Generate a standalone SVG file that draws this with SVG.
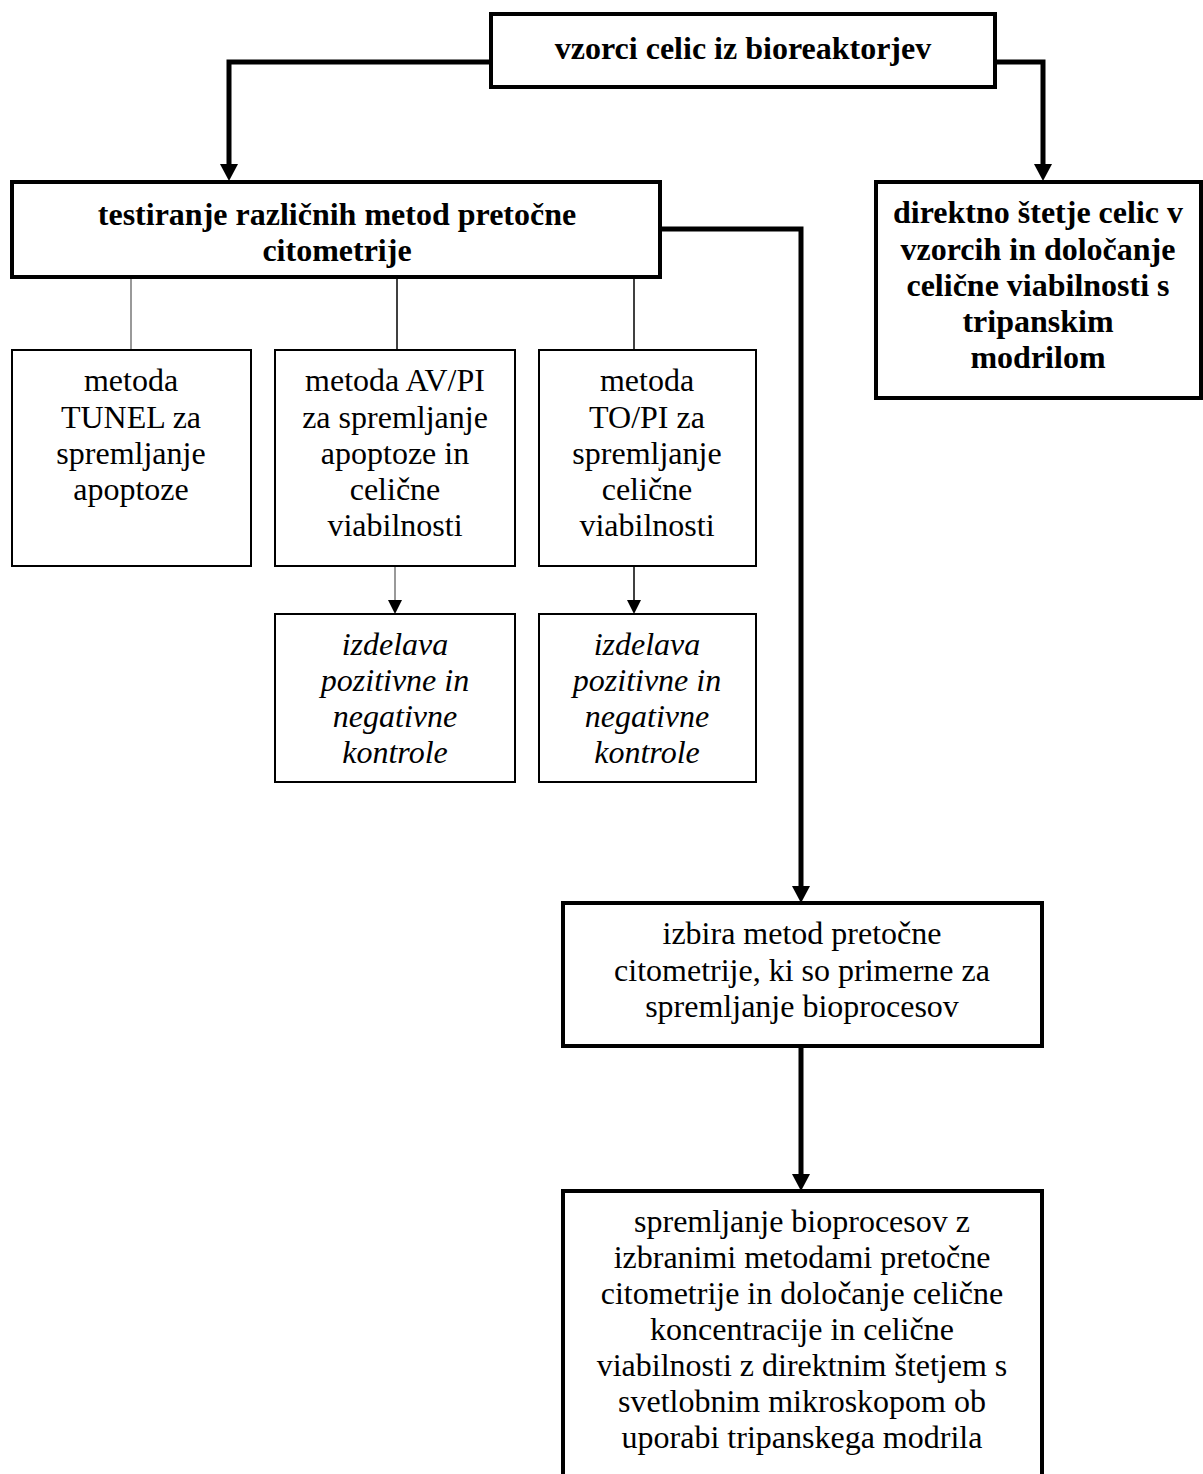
<svg xmlns="http://www.w3.org/2000/svg" width="1203" height="1474" viewBox="0 0 1203 1474">
<style>
text{font-family:"Liberation Serif","Times New Roman",serif;font-size:32px;fill:#000;text-anchor:middle}
.b{font-weight:bold}
.i{font-style:italic}
.thick{fill:#fff;stroke:#000;stroke-width:4}
.thin{fill:#fff;stroke:#000;stroke-width:2}
.tc{fill:none;stroke:#000;stroke-width:5}
.ln{fill:none;stroke:#000;stroke-width:1.5}
.lg{fill:none;stroke:#777;stroke-width:1.5}
</style>
<defs>
<marker id="ab" markerUnits="userSpaceOnUse" markerWidth="20" markerHeight="18" refX="9" refY="16" orient="auto" viewBox="0 0 18 18">
<path d="M0,0 L18,0 L9,16 Z" fill="#000" transform="rotate(0)"/>
</marker>
</defs>
<rect width="1203" height="1474" fill="#fff"/>
<g id="connectors">
<polyline class="tc" points="491,62 229,62 229,166"/>
<path d="M220,164 L238,164 L229,181 Z" fill="#000"/>
<polyline class="tc" points="995,62 1043,62 1043,166"/>
<path d="M1034,164 L1052,164 L1043,181 Z" fill="#000"/>
<polyline class="tc" points="660,229 801,229 801,888"/>
<path d="M792,886 L810,886 L801,903 Z" fill="#000"/>
<line class="tc" x1="801" y1="1046" x2="801" y2="1176"/>
<path d="M792,1174 L810,1174 L801,1191 Z" fill="#000"/>
<line class="lg" x1="131" y1="277" x2="131" y2="350"/>
<line class="ln" x1="397" y1="277" x2="397" y2="350"/>
<line class="ln" x1="634" y1="277" x2="634" y2="350"/>
<line class="lg" x1="395" y1="566" x2="395" y2="602"/>
<path d="M388,600 L402,600 L395,614 Z" fill="#000"/>
<line class="ln" x1="634" y1="566" x2="634" y2="602"/>
<path d="M627,600 L641,600 L634,614 Z" fill="#000"/>
</g>
<g id="n-vzorci">
<rect class="thick" x="491" y="14" width="504" height="73"/>
<text class="b" x="743" y="59">vzorci celic iz bioreaktorjev</text>
</g>
<g id="n-testiranje">
<rect class="thick" x="12" y="182" width="648" height="95"/>
<text class="b" x="337" y="225">testiranje različnih metod pretočne</text>
<text class="b" x="337" y="261">citometrije</text>
</g>
<g id="n-direktno">
<rect class="thick" x="876" y="182" width="325" height="216"/>
<text class="b" x="1038" y="223">direktno štetje celic v</text>
<text class="b" x="1038" y="260">vzorcih in določanje</text>
<text class="b" x="1038" y="296">celične viabilnosti s</text>
<text class="b" x="1038" y="332">tripanskim</text>
<text class="b" x="1038" y="368">modrilom</text>
</g>
<g id="n-tunel">
<rect class="thin" x="12" y="350" width="239" height="216"/>
<text x="131" y="391">metoda</text>
<text x="131" y="428">TUNEL za</text>
<text x="131" y="464">spremljanje</text>
<text x="131" y="500">apoptoze</text>
</g>
<g id="n-avpi">
<rect class="thin" x="275" y="350" width="240" height="216"/>
<text x="395" y="391">metoda AV/PI</text>
<text x="395" y="428">za spremljanje</text>
<text x="395" y="464">apoptoze in</text>
<text x="395" y="500">celične</text>
<text x="395" y="536">viabilnosti</text>
</g>
<g id="n-topi">
<rect class="thin" x="539" y="350" width="217" height="216"/>
<text x="647" y="391">metoda</text>
<text x="647" y="428">TO/PI za</text>
<text x="647" y="464">spremljanje</text>
<text x="647" y="500">celične</text>
<text x="647" y="536">viabilnosti</text>
</g>
<g id="n-kontrole1">
<rect class="thin" x="275" y="614" width="240" height="168"/>
<text class="i" x="395" y="655">izdelava</text>
<text class="i" x="395" y="691">pozitivne in</text>
<text class="i" x="395" y="727">negativne</text>
<text class="i" x="395" y="763">kontrole</text>
</g>
<g id="n-kontrole2">
<rect class="thin" x="539" y="614" width="217" height="168"/>
<text class="i" x="647" y="655">izdelava</text>
<text class="i" x="647" y="691">pozitivne in</text>
<text class="i" x="647" y="727">negativne</text>
<text class="i" x="647" y="763">kontrole</text>
</g>
<g id="n-izbira">
<rect class="thick" x="563" y="903" width="479" height="143"/>
<text x="802" y="944">izbira metod pretočne</text>
<text x="802" y="981">citometrije, ki so primerne za</text>
<text x="802" y="1017">spremljanje bioprocesov</text>
</g>
<g id="n-spremljanje">
<rect class="thick" x="563" y="1191" width="479" height="300"/>
<text x="802" y="1232">spremljanje bioprocesov z</text>
<text x="802" y="1268">izbranimi metodami pretočne</text>
<text x="802" y="1304">citometrije in določanje celične</text>
<text x="802" y="1340">koncentracije in celične</text>
<text x="802" y="1376">viabilnosti z direktnim štetjem s</text>
<text x="802" y="1412">svetlobnim mikroskopom ob</text>
<text x="802" y="1448">uporabi tripanskega modrila</text>
</g>
</svg>
